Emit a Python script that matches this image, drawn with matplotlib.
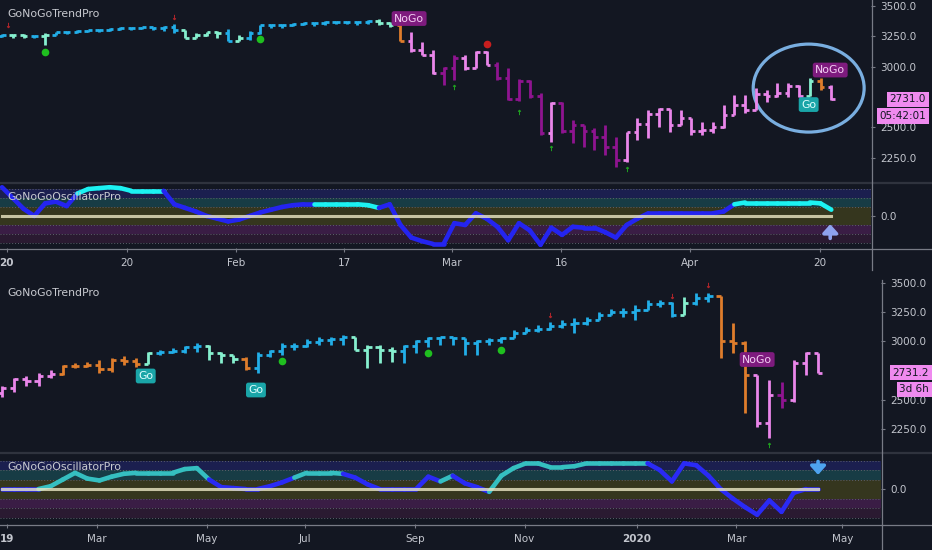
import matplotlib
matplotlib.use("Agg")
import matplotlib.pyplot as plt
from matplotlib.lines import Line2D
from matplotlib.patches import Ellipse
from matplotlib.transforms import blended_transform_factory

# ---------------- top chart: daily bars Jan - Apr 2020 ----------------
top_open0 = 3255
top_close = [3262, 3258, 3255, 3250, 3265, 3285, 3290, 3295, 3300, 3305,
             3312, 3318, 3322, 3325, 3320, 3325, 3300, 3240, 3260, 3285,
             3280, 3215, 3240, 3280, 3340, 3345, 3340, 3355, 3360, 3362,
             3365, 3368, 3370, 3365, 3375, 3360, 3345, 3215, 3135, 3100,
             2945, 2990, 3070, 2990, 3120, 3015, 2910, 2730, 2880, 2760,
             2450, 2700, 2470, 2520, 2470, 2420, 2340, 2230, 2460, 2530,
             2610, 2650, 2520, 2580, 2470, 2480, 2500, 2600, 2680, 2640,
             2775, 2760, 2780, 2840, 2760, 2880, 2830, 2731.0]
top_high = [3270, 3270, 3268, 3262, 3277, 3290, 3295, 3300, 3305, 3310,
            3320, 3325, 3330, 3330, 3328, 3332, 3355, 3305, 3275, 3290,
            3292, 3310, 3260, 3295, 3345, 3350, 3352, 3362, 3370, 3372,
            3375, 3378, 3380, 3378, 3385, 3392, 3365, 3365, 3285, 3200,
            3137, 3000, 3095, 3095, 3125, 3125, 3040, 2990, 2895, 2890,
            2780, 2710, 2710, 2560, 2500, 2493, 2518, 2420, 2460, 2575,
            2640, 2660, 2640, 2640, 2575, 2545, 2545, 2680, 2765, 2765,
            2823, 2807, 2865, 2865, 2850, 2905, 2905, 2850]
top_low = [3245, 3235, 3238, 3240, 3178, 3268, 3272, 3280, 3285, 3288,
           3295, 3300, 3305, 3308, 3300, 3295, 3275, 3236, 3235, 3250,
           3235, 3210, 3212, 3220, 3270, 3320, 3315, 3335, 3340, 3338,
           3345, 3348, 3352, 3345, 3352, 3340, 3325, 3210, 3120, 3095,
           2940, 2850, 2890, 2970, 2985, 3010, 2890, 2725, 2720, 2740,
           2435, 2380, 2450, 2370, 2337, 2312, 2270, 2170, 2215, 2395,
           2410, 2500, 2460, 2535, 2435, 2435, 2450, 2493, 2625, 2615,
           2725, 2708, 2750, 2750, 2750, 2823, 2807, 2725]
# b = strong go, a = weak go, o = weak nogo, p = nogo, m = strong nogo
top_trend = ("baaba" "bbbbbbbbbbbb" "aaaa" "ba" "bbbbbbbbbbbb" "aao"
             "ppp" "mm" "ppp" "mmmmm" "p" "mmmmmm" "ppppppppppppppppp" "aop")
top_osc = [3.2, 2.0, 0.8, 0.0, 1.4, 1.6, 1.1, 2.5, 3.0, 3.1,
           3.2, 3.1, 2.8, 2.8, 2.8, 2.8, 1.3, 0.9, 0.5, 0.0,
           -0.3, -0.6, -0.4, 0.0, 0.4, 0.7, 1.0, 1.2, 1.3, 1.3,
           1.3, 1.3, 1.3, 1.3, 1.2, 0.9, 1.3, -1.0, -2.4, -2.8,
           -3.1, -3.1, -0.8, -1.0, 0.3, -0.3, -1.2, -2.7, -0.8, -1.6,
           -3.2, -1.3, -2.1, -1.2, -1.3, -1.3, -1.8, -2.4, -1.0, -0.3,
           0.3, 0.3, 0.3, 0.3, 0.3, 0.3, 0.3, 0.5, 1.3, 1.5,
           1.5, 1.5, 1.5, 1.5, 1.5, 1.5, 1.4, 0.7]
top_osc_state = ("c" "bbbbbbb" "cccccccc" "bbbbbbbbbbbbbb" "cccccc"
                 "bbbbbbbbbbbbbbbbbbbbbbbbbbbbbbbbb" "ccccccccc")
top_xticks = [0.45, 11.6, 21.7, 31.75, 41.8, 51.9, 63.9, 75.95]
top_xlabels = ["20", "20", "Feb", "17", "Mar", "16", "Apr", "20"]
top_yticks = [2250, 2500, 3000, 3250, 3500]
top_go = [(74.9, 2687)]
top_nogo = [(37.8, 3397), (76.9, 2972)]
top_green_dots = [(4, 3120), (24, 3228)]
top_red_dots = [(45, 3186)]
top_red_marks = [(0.55, 3343), (16, 3409)]
top_green_marks = [(42, 2832), (48, 2625), (51, 2328), (58, 2155)]

# ---------------- bottom chart: 2-week bars 2019 - 2020 ----------------
bot_open0 = 2560
bot_close = [2600, 2680, 2665, 2700, 2720, 2790, 2790, 2800, 2760, 2840,
             2830, 2810, 2900, 2910, 2915, 2950, 2960, 2900, 2880, 2850,
             2770, 2880, 2915, 2960, 2960, 2995, 3010, 3025, 3040, 2930,
             2950, 2930, 2920, 2960, 3000, 3030, 3040, 3030, 2990, 3000,
             3015, 3030, 3070, 3095, 3110, 3130, 3150, 3160, 3180, 3230,
             3250, 3255, 3265, 3320, 3330, 3230, 3330, 3370, 3385, 3000,
             2990, 2713, 2299, 2541, 2498, 2812, 2898, 2731.2]
bot_high = [2620, 2690, 2700, 2727, 2755, 2800, 2812, 2827, 2841, 2855,
            2875, 2855, 2912, 2927, 2941, 2961, 2984, 2970, 2912, 2884,
            2870, 2912, 2927, 2984, 2984, 3018, 3035, 3041, 3055, 3041,
            2970, 2970, 2955, 2970, 3012, 3041, 3041, 3026, 3000, 3012,
            3026, 3041, 3098, 3126, 3140, 3169, 3183, 3198, 3212, 3255,
            3275, 3283, 3312, 3355, 3355, 3340, 3383, 3412, 3417, 3360,
            3155, 3000, 2713, 2670, 2656, 2841, 2912, 2898]
bot_low = [2525, 2570, 2615, 2618, 2684, 2713, 2770, 2778, 2727, 2741,
           2798, 2784, 2841, 2884, 2898, 2898, 2912, 2841, 2812, 2812,
           2755, 2727, 2870, 2884, 2927, 2955, 2970, 2970, 2970, 2927,
           2770, 2812, 2827, 2812, 2898, 2955, 2970, 2970, 2884, 2884,
           2970, 2984, 3041, 3069, 3083, 3098, 3112, 3069, 3140, 3198,
           3226, 3212, 3183, 3269, 3297, 3212, 3226, 3312, 3340, 2855,
           2898, 2385, 2270, 2170, 2427, 2484, 2713, 2727]
bot_trend = ("ppppp" "ooooooo" "a" "bbbb" "aaa" "o" "bbbbbbbb" "aaaa"
             "bbbbbbbbbbbbbbbbbbbbbbb" "a" "bb" "ooo" "pp" "m" "ppp")
bot_osc = [0.0, 0.0, 0.0, 0.0, 0.3, 1.0, 1.7, 1.1, 0.9, 1.3,
           1.6, 1.7, 1.7, 1.7, 1.7, 2.1, 2.2, 1.0, 0.2, 0.1,
           0.0, 0.0, 0.3, 0.7, 1.2, 1.7, 1.7, 1.7, 1.6, 1.2,
           0.5, 0.0, 0.0, 0.0, 0.0, 1.3, 0.8, 1.4, 0.6, 0.2,
           -0.3, 1.4, 2.2, 2.7, 2.7, 2.3, 2.3, 2.4, 2.7, 2.7,
           2.7, 2.7, 2.7, 2.7, 2.0, 0.8, 2.7, 2.5, 1.4, 0.0,
           -1.0, -1.9, -2.7, -1.2, -2.4, -0.4, 0.0, 0.0]
bot_osc_state = ("bbbb" "tttttttttttttt" "bbbbbbb" "tttt" "bbbbbbbb" "t"
                 "bbb" "ttttttttttttt" "bbbbbbbbbbbbbb")
bot_xticks = [0.45, 7.8, 16.8, 24.9, 33.9, 42.9, 52.1, 60.3, 69.0]
bot_xlabels = ["19", "Mar", "May", "Jul", "Sep", "Nov", "2020", "Mar", "May"]
bot_yticks = [2250, 2500, 3000, 3250, 3500]
bot_go = [(11.8, 2704), (20.85, 2584)]
bot_nogo = [(62.0, 2845)]
bot_green_dots = [(23, 2832), (35, 2901), (41, 2926)]
bot_red_marks = [(45, 3226), (55, 3389), (58, 3483)]
bot_green_marks = [(63, 2113)]

# ---------------- style ----------------
W, H = 932, 550
BG = "#131722"
TXT = "#c3c6ce"
AXC = "#787b86"
BAR_COLORS = {"b": "#22aee8", "a": "#86f0cf", "o": "#df7d2c",
              "p": "#ea86ea", "m": "#8f1490"}
BANDS = [(2, 3, "#1b1f4f"), (1, 2, "#173c45"), (-1, 1, "#35361e"),
         (-2, -1, "#3a1d45"), (-3, -2, "#2a1a31")]

fig = plt.figure(figsize=(W / 100, H / 100), dpi=100, facecolor=BG)


def px_axes(x0, y0, x1, y1):
    ax = fig.add_axes([x0 / W, 1 - y1 / H, (x1 - x0) / W, (y1 - y0) / H])
    ax.set_facecolor(BG)
    for s in ax.spines.values():
        s.set_visible(False)
    ax.yaxis.tick_right()
    ax.tick_params(colors=TXT, labelsize=7.5, length=3, width=0.8)
    ax.tick_params(axis="both", color=AXC)
    return ax


def fig_line(x0, y0, x1, y1, color, lw):
    fig.add_artist(Line2D([x0 / W, x1 / W], [1 - y0 / H, 1 - y1 / H],
                          transform=fig.transFigure, color=color, lw=lw))


def draw_bars(ax, open0, closes, highs, lows, trend):
    opens = [open0] + list(closes[:-1])
    for i, (o, c, h, l, t) in enumerate(zip(opens, closes, highs, lows, trend)):
        col = BAR_COLORS[t]
        ax.plot([i, i], [min(l, o, c), max(h, o, c)], color=col, lw=2.0,
                solid_capstyle="butt")
        ax.plot([i - 0.34, i], [o, o], color=col, lw=2.0, solid_capstyle="butt")
        ax.plot([i, i + 0.34], [c, c], color=col, lw=2.0, solid_capstyle="butt")


def draw_osc(ax, vals, states, colors):
    for lo, hi, fc in BANDS:
        ax.axhspan(lo, hi, color=fc, lw=0)
    for lv in [-3, -2, -1, 1, 2, 3]:
        ax.axhline(lv, color="#5d606b", lw=0.7, ls=(0, (1, 2)))
    for i in range(1, len(vals)):
        ax.plot([i - 1, i], [vals[i - 1], vals[i]], color=colors[states[i]],
                lw=3.3, solid_capstyle="round")
    ax.plot([0, len(vals) - 1], [0, 0], color="#ebe7c4", lw=2.2, alpha=0.8)
    ax.set_yticks([0])
    ax.set_yticklabels(["0.0"])


def label(ax, pts, text, fc, tc):
    for x, y in pts:
        ax.text(x, y, text, ha="center", va="center", fontsize=7.8, color=tc,
                bbox=dict(boxstyle="round,pad=0.22", fc=fc, ec="none"))


def markers(ax, dots_g, dots_r, marks_r, marks_g):
    for x, y in dots_g:
        ax.plot(x, y, "o", color="#1fbf1f", ms=5.5, mec="none")
    for x, y in dots_r:
        ax.plot(x, y, "o", color="#c81e1e", ms=5.5, mec="none")
    for x, y in marks_r:
        ax.plot(x, y, marker=r"$\downarrow$", color="#b8262b", ms=3.6,
                mew=0.3)
    for x, y in marks_g:
        ax.plot(x, y, marker=r"$\uparrow$", color="#1fa81f", ms=3.6, mew=0.3)


def price_labels(ax, value, sub, x_right):
    tr = blended_transform_factory(fig.transFigure, ax.transData)
    ax.text(x_right / W, value, f"{value:.1f}", transform=tr, ha="right",
            va="center", fontsize=7.5, color=BG, clip_on=False,
            bbox=dict(boxstyle="square,pad=0.25", fc="#ef8aef", ec="none"))
    ax.annotate(sub, xy=(x_right / W, value), xycoords=tr,
                xytext=(0, -12), textcoords="offset points", ha="right",
                va="center", fontsize=7.5, color=BG, annotation_clip=False,
                bbox=dict(boxstyle="square,pad=0.25", fc="#ef8aef", ec="none"))


# ---------------- top chart ----------------
sp_top = 10.77
ax1 = px_axes(0, 0, 871, 182)
draw_bars(ax1, top_open0, top_close, top_high, top_low, top_trend)
markers(ax1, top_green_dots, top_red_dots, top_red_marks, top_green_marks)
label(ax1, top_nogo, "NoGo", "#7e1b7e", "#f5d0f5")
label(ax1, top_go, "Go", "#1aa5a8", "#e0ffff")
ax1.add_patch(Ellipse((74.9, 2823), 10.3, 726, fill=False,
                      ec="#79aee0", lw=2.3))
ax1.set_xlim(-2 / sp_top, 869 / sp_top)
ax1.set_ylim(2048, 3550)
ax1.set_xticks([])
ax1.set_yticks(top_yticks)
ax1.set_yticklabels([f"{v:.1f}" for v in top_yticks])
price_labels(ax1, top_close[-1], "05:42:01", 926)

ax2 = px_axes(0, 183, 871, 248)
draw_osc(ax2, top_osc, top_osc_state, {"c": "#1cf2f2", "b": "#2424f0"})
ax2.annotate("", xy=(len(top_osc) - 1.1, -0.6),
             xytext=(len(top_osc) - 1.1, -2.8),
             arrowprops=dict(arrowstyle="-|>,head_width=0.45,head_length=0.5",
                             color="#8ea2ee", lw=2.6))
ax2.set_xlim(-2 / sp_top, 869 / sp_top)
ax2.set_ylim(-3.56, 3.67)
ax2.set_xticks(top_xticks)
ax2.set_xticklabels(top_xlabels)
ax2.tick_params(axis="x", pad=4)
for t in ax2.get_xticklabels()[:1]:
    t.set_fontweight("bold")

# ---------------- bottom chart ----------------
sp_bot = 12.18
ax3 = px_axes(0, 282, 881, 452)
draw_bars(ax3, bot_open0, bot_close, bot_high, bot_low, bot_trend)
markers(ax3, bot_green_dots, [], bot_red_marks, bot_green_marks)
label(ax3, bot_nogo, "NoGo", "#7e1b7e", "#f5d0f5")
label(ax3, bot_go, "Go", "#1aa5a8", "#e0ffff")
ax3.set_xlim(-2 / sp_bot, 879 / sp_bot)
ax3.set_ylim(2053, 3509)
ax3.set_xticks([])
ax3.set_yticks(bot_yticks)
ax3.set_yticklabels([f"{v:.1f}" for v in bot_yticks])
price_labels(ax3, bot_close[-1], "3d 6h", 929)

ax4 = px_axes(0, 453, 881, 524)
draw_osc(ax4, bot_osc, bot_osc_state, {"t": "#35bfc0", "b": "#2a2af5"})
ax4.annotate("", xy=(len(bot_osc) - 1, 1.2), xytext=(len(bot_osc) - 1, 3.2),
             arrowprops=dict(arrowstyle="-|>,head_width=0.45,head_length=0.5",
                             color="#4ea3f0", lw=2.6))
ax4.set_xlim(-2 / sp_bot, 879 / sp_bot)
ax4.set_ylim(-3.68, 3.79)
ax4.set_xticks(bot_xticks)
ax4.set_xticklabels(bot_xlabels)
ax4.tick_params(axis="x", pad=4)
for t in ax4.get_xticklabels():
    if t.get_text() in ("2020", "19"):
        t.set_fontweight("bold")

# ---------------- titles, frames ----------------
for y, txt in [(14, "GoNoGoTrendPro"), (197, "GoNoGoOscillatorPro"),
               (293, "GoNoGoTrendPro"), (467, "GoNoGoOscillatorPro")]:
    fig.text(7 / W, 1 - y / H, txt, va="center", ha="left", fontsize=7.8,
             color="#c8cad0")

fig_line(0, 182.5, W, 182.5, "#2f333e", 1.6)
fig_line(0, 248.5, W, 248.5, AXC, 0.9)
fig_line(871.5, 0, 871.5, 270, AXC, 0.9)
fig_line(0, 452.5, W, 452.5, "#2f333e", 1.6)
fig_line(0, 524.5, W, 524.5, AXC, 0.9)
fig_line(881.5, 280, 881.5, H, AXC, 0.9)

fig.savefig("out.png", dpi=100, facecolor=BG)
